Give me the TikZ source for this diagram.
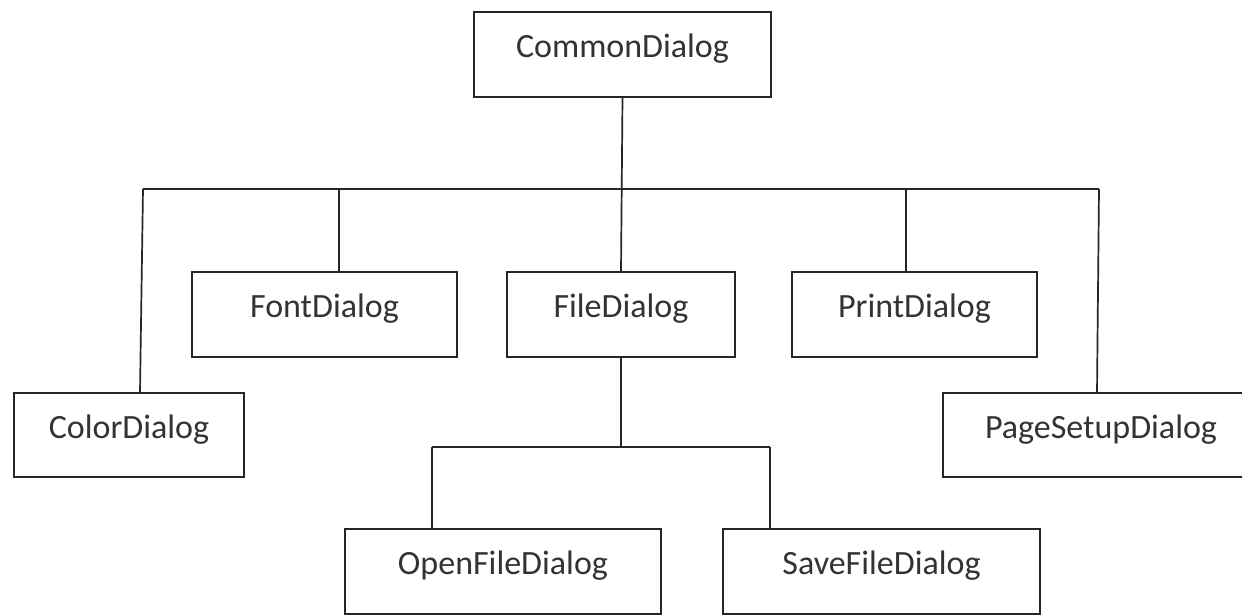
\documentclass[tikz,border=0pt]{standalone}
\usepackage{fontspec}
\setmainfont{Carlito}
\begin{document}
\begin{tikzpicture}[x=1pt,y=-1pt,
  box/.style={draw=black!85, line width=1.5pt, rectangle, inner xsep=0pt, inner ysep=0pt,
    text height=45pt, text depth=40pt, anchor=base, text=black!80,
    font=\fontsize{34}{40}\selectfont},
  conn/.style={draw=black!85, line width=1.7pt}]
\useasboundingbox (0,0) rectangle (1242,614);
\clip (0,0) rectangle (1242,614);
\fill[white] (0,0) rectangle (1242,614);
% boxes
\node[box, minimum width=297pt] (common) at (622.5,57) {CommonDialog};
\node[box, minimum width=265pt] (font) at (324.5,317) {FontDialog};
\node[box, minimum width=228pt] (file) at (621,317) {FileDialog};
\node[box, minimum width=245pt] (print) at (914.5,317) {PrintDialog};
\node[box, minimum width=230pt, text depth=39pt] (color) at (129,438) {ColorDialog};
\node[box, minimum width=316pt, text depth=39pt] (pagesetup) at (1101,438) {PageSetupDialog};
\node[box, minimum width=316pt] (open) at (503,574) {OpenFileDialog};
\node[box, minimum width=317pt] (save) at (881.5,574) {SaveFileDialog};
% bus coordinates
\coordinate (busL) at (143,189);
\coordinate (busR) at (1099,189);
\coordinate (fbusL) at (432,447);
\coordinate (fbusR) at (770,447);
% connectors
\draw[conn] (common.south) -- (file.north);
\draw[conn] (busL) -- (busR);
\draw[conn] (busL) -- ([xshift=11pt]color.north);
\draw[conn] ([xshift=14.5pt]font.north) -- ([xshift=14.5pt]font.north |- busL);
\draw[conn] ([xshift=-8.5pt]print.north) -- ([xshift=-8.5pt]print.north |- busL);
\draw[conn] (busR) -- ([xshift=-4pt]pagesetup.north);
\draw[conn] (file.south) -- (file.south |- fbusL);
\draw[conn] (fbusL) -- (fbusR);
\draw[conn] (fbusL) -- (open.north -| fbusL);
\draw[conn] (fbusR) -- (save.north -| fbusR);
\end{tikzpicture}
\end{document}
